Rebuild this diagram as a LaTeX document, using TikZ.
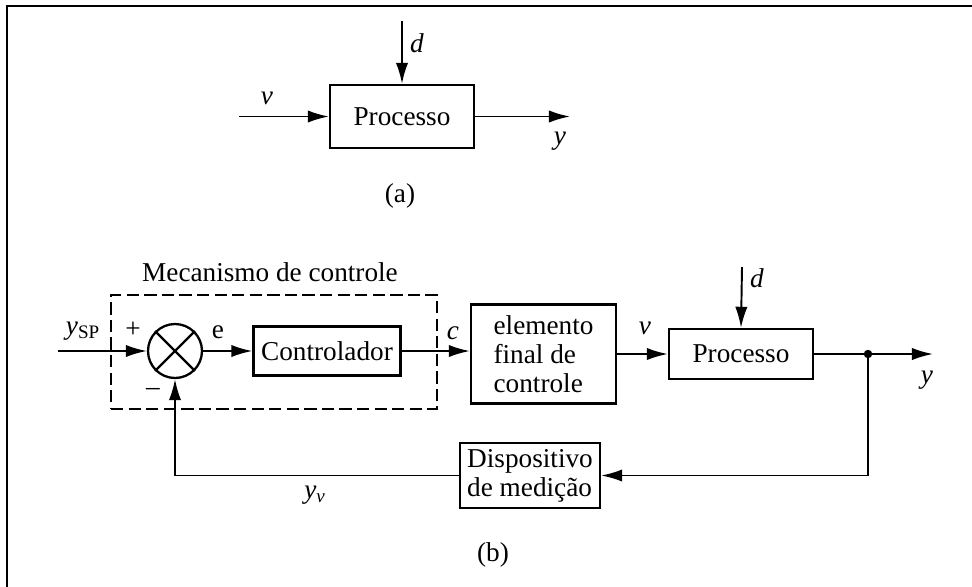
\documentclass[tikz,border=0pt]{standalone}
\usepackage{fontspec}
\setmainfont{Liberation Serif}
\usetikzlibrary{arrows.meta, positioning}

\tikzset{
  blk/.style={draw, line width=1.3pt, minimum width=2.88cm, minimum height=1cm,
    inner sep=2pt, font=\fontsize{15.5}{16.5}\selectfont},
  sig/.style={line width=1.1pt, -{Latex[length=12pt, width=7pt]}},
  lbl/.style={inner sep=0pt, font=\fontsize{15.5}{16.5}\selectfont},
}

\begin{document}
\begin{tikzpicture}[x=0.02cm, y=-0.02cm]
    % Page and frame
    \useasboundingbox (0,0) rectangle (972,586);
    \draw[line width=1.3pt] (7,600) -- (7,6) -- (980,6);

    % (a) Open process
    \node[blk, minimum height=1.26cm] (procA) at (402,116.5) {Processo};
    \coordinate (vInA) at (239,116.5);
    \coordinate (dInA) at (402,21);
    \coordinate (yOutA) at (570,116.5);

    \draw[sig] (vInA) -- (procA.west);
    \draw[sig] (dInA) -- (procA.north);
    \draw[sig] (procA.east) -- (yOutA);

    \node[lbl] (vLblA) at (267,98) {\textit{v}};
    \node[lbl] (dLblA) at (417,43) {\textit{d}};
    \node[lbl] (yLblA) at (560,141) {\textit{y}};
    \node[lbl] (capA) at (400,196) {(a)};

    % (b) Closed loop
    \node[draw, line width=0.8pt, dash pattern=on 7pt off 3pt,
      minimum width=6.52cm, minimum height=2.28cm] (mech) at (274,352) {};
    \node[lbl] (mechLbl) at (270,272) {Mecanismo de controle};

    \node[circle, draw, line width=1.3pt, minimum size=1.08cm] (sum) at (175,351) {};
    \draw[line width=1.3pt] (sum.north west) -- (sum.south east);
    \draw[line width=1.3pt] (sum.north east) -- (sum.south west);

    \node[blk, minimum width=2.94cm, minimum height=0.98cm] (ctrl) at (327,351) {Controlador};
    \node[blk, align=left, minimum width=2.9cm, minimum height=1.98cm] (elem) at (543.5,354)
      {elemento\\final de\\controle};
    \node[blk] (procB) at (741,354) {Processo};
    \node[blk, align=left, minimum width=2.8cm, minimum height=1.3cm] (meas) at (530,475.5)
      {Dispositivo\\de medição};

    \coordinate (spIn) at (58,351);
    \coordinate (dInB) at (742,267);
    \coordinate (tap) at (868,354);
    \coordinate (yOutB) at (933,354);

    % Signals
    \draw[sig] (spIn) -- (sum.west);
    \draw[sig] (sum.east) -- (ctrl.west);
    \draw[sig] (ctrl.east) -- (ctrl.east -| elem.west);
    \draw[sig] (elem.east) -- (procB.west);
    \draw[sig] (dInB) -- (procB.north);
    \draw[sig] (procB.east) -- (yOutB);
    \fill (tap) circle (2.4pt);
    \draw[sig] (tap) |- (meas.east);
    \draw[sig] (meas.west) -| (sum.south);

    % Labels
    \node[lbl] (spLbl) at (83,331) {\textit{y}\textsubscript{SP}};
    \node[lbl] (plusLbl) at (133,330) {+};
    \node[lbl] (minusLbl) at (153,392) {\textendash};
    \node[lbl] (eLbl) at (218,332) {e};
    \node[lbl] (cLbl) at (453,333) {\textit{c}};
    \node[lbl] (vLblB) at (645,328) {\textit{v}};
    \node[lbl] (dLblB) at (757,278) {\textit{d}};
    \node[lbl] (yLblB) at (927,380) {\textit{y}};
    \node[lbl] (yvLbl) at (315,495) {\textit{y}\textsubscript{\textit{v}}};
    \node[lbl] (capB) at (493,555) {(b)};
\end{tikzpicture}
\end{document}
